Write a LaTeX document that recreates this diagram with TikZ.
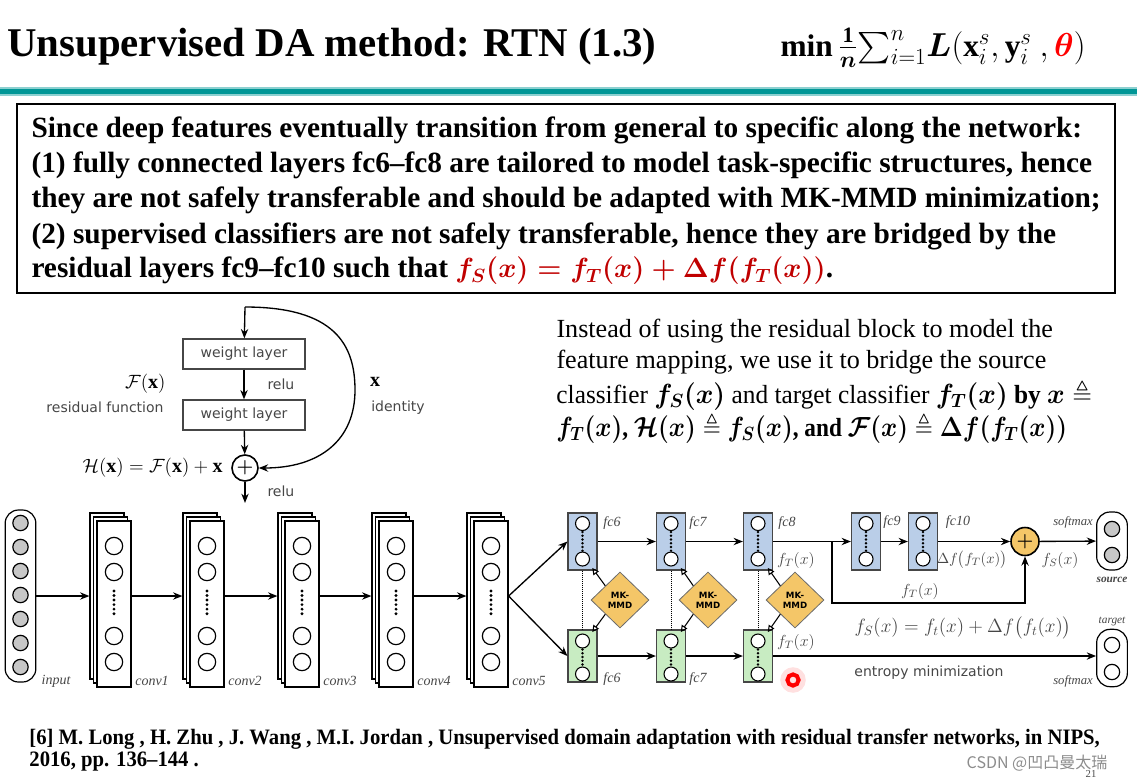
\documentclass[tikz,border=0pt]{standalone}
\usepackage{amsmath,amssymb}
\usepackage{fontspec}
\setmainfont{Liberation Serif}
\newfontfamily\vsans{DejaVu Sans}
\newfontfamily\cjk{Noto Sans CJK SC}
\usetikzlibrary{shapes.geometric,arrows.meta}

\definecolor{slideteal}{RGB}{0,150,150}
\definecolor{boxred}{RGB}{192,0,0}
\definecolor{fcblue}{RGB}{186,206,232}
\definecolor{fcgreen}{RGB}{200,236,194}
\definecolor{mmdorange}{RGB}{244,198,104}
\definecolor{inkgray}{RGB}{70,70,70}

\tikzset{every picture/.style={line width=0.75pt},
  arr/.style={-{Stealth[length=7pt,width=5.5pt]},line width=1pt},
  openarr/.style={-{Triangle[open,length=5pt,width=5pt]},line width=0.8pt},
  wlayer/.style={draw=inkgray,line width=1pt,minimum width=91.5pt,minimum height=22.5pt,inner sep=0pt,font=\vsans\fontsize{10.5}{12}\selectfont,text=inkgray},
  sheet/.style={draw=black,fill=white,line width=0.9pt,minimum width=25.5pt,minimum height=124.5pt,inner sep=0pt},
  pill/.style={draw=black,fill=white,line width=0.9pt,rounded corners=10pt,minimum width=23pt,inner sep=0pt},
  unit/.style={circle,draw=black,fill=white,line width=0.9pt,minimum size=13pt,inner sep=0pt},
  fcbox/.style={draw=inkgray,line width=0.9pt,minimum width=21.75pt,inner sep=0pt},
  mmd/.style={diamond,draw=inkgray!80,fill=mmdorange,line width=0.6pt,minimum width=43.5pt,minimum height=42pt,inner sep=0pt,align=center,font=\vsans\bfseries\fontsize{6.5}{7.5}\selectfont},
  ndots/.style={line width=2.4pt,dash pattern=on 0pt off 3.4pt,line cap=round},
  lbl/.style={font=\itshape\fontsize{10.5}{12}\selectfont,text=inkgray,inner sep=0.75pt},
  sanslbl/.style={font=\vsans\fontsize{10.5}{12}\selectfont,text=inkgray,inner sep=0.75pt},
  boxline/.style={anchor=west,inner sep=0.75pt,font=\bfseries\fontsize{22}{25}\selectfont},
  paraline/.style={anchor=west,inner sep=0.75pt,font=\fontsize{19.6}{22}\selectfont},
  refline/.style={anchor=west,inner sep=0.75pt,xscale=0.94,font=\bfseries\fontsize{16.5}{18}\selectfont}
}

\begin{document}
\begin{tikzpicture}[x=0.75pt,y=0.75pt,yscale=-1,xscale=1]
\useasboundingbox (0,0) rectangle (1137,782);

% Text Node
\draw (6,47) node (title) [anchor=west,inner sep=0.75pt,font=\bfseries\fontsize{30.6}{34}\selectfont] {Unsupervised DA method: RTN (1.3)};
% Text Node
\draw (780,48) node (objective) [anchor=west,inner sep=0pt,font=\fontsize{23.5}{26}\selectfont] {$\mathbf{min}\,\frac{\mathbf{1}}{\boldsymbol{n}}{\textstyle\sum_{i=1}^{n}}\boldsymbol{L}(\mathbf{x}_i^s,\mathbf{y}_i^s\ ,\textcolor{red}{\boldsymbol{\theta}})$};
%Straight Lines
\draw [color=slideteal!45,line width=6.5pt] (0,91.5) -- (1137,91.5) ;
\draw [color=slideteal,line width=3.5pt] (0,91.5) -- (1137,91.5) ;

%Shape: Rectangle
\draw [line width=1.6pt] (17,104) rectangle (1115,293) ;
% Text Node
\draw (30,130) node (boxa) [boxline] {Since deep features eventually transition from general to specific along the network:};
% Text Node
\draw (30,165) node (boxb) [boxline] {(1) fully connected layers fc6--fc8 are tailored to model task-specific structures, hence};
% Text Node
\draw (30,200) node (boxc) [boxline] {they are not safely transferable and should be adapted with MK-MMD minimization;};
% Text Node
\draw (30,236) node (boxd) [boxline] {(2) supervised classifiers are not safely transferable, hence they are bridged by the};
% Text Node
\draw (30,271) node (boxe) [boxline] {residual layers fc9--fc10 such that \textcolor{boxred}{$\boldsymbol{f_S(x)=f_T(x)+\Delta f(f_T(x))}$}.};

% Text Node
\draw (555,331) node (parya) [paraline] {Instead of using the residual block to model the};
% Text Node
\draw (555,362) node (paryb) [paraline] {feature mapping, we use it to bridge the source};
% Text Node
\draw (555,395) node (paryc) [paraline,xscale=0.97] {classifier $\boldsymbol{f_S(x)}$ and target classifier $\boldsymbol{f_T(x)}$ \textbf{by} $\boldsymbol{x}\triangleq$};
% Text Node
\draw (555,428) node (paryd) [paraline,xscale=0.89] {$\boldsymbol{f_T(x)}$\textbf{,} $\boldsymbol{\mathcal{H}(x)}\triangleq\boldsymbol{f_S(x)}$\textbf{, and} $\boldsymbol{\mathcal{F}(x)}\triangleq\boldsymbol{\Delta f(f_T(x))}$};

% residual block
\coordinate (restop) at (245,307);
\coordinate (resout) at (245,503);
\node (wl1) [wlayer] at (244,354) {weight layer};
\node (wl2) [wlayer] at (244,415) {weight layer};
\node (addres) [circle,draw=black,line width=1.2pt,minimum size=19.5pt,inner sep=0pt,font=\bfseries\Large] at (245,468) {$\boldsymbol{+}$};
\draw [arr] (restop) -- (wl1) ;
\draw [arr] (wl1) -- (wl2) ;
\draw [arr] (wl2) -- (addres) ;
\draw [arr] (addres) -- (resout) ;
\draw [arr] (restop) .. controls (335,307) and (355,345) .. (355,390) .. controls (355,440) and (320,468) .. (addres.east) ;
% Text Node
\draw (266,384) node (relua) [sanslbl,anchor=west] {relu};
% Text Node
\draw (266,491) node (relub) [sanslbl,anchor=west] {relu};
% Text Node
\draw (167,384) node (resfx) [anchor=east,inner sep=0.75pt,font=\fontsize{15}{17}\selectfont] {$\mathcal{F}(\mathbf{x})$};
% Text Node
\draw (105,407) node (resfn) [sanslbl] {residual function};
% Text Node
\draw (375,382) node (idx) [inner sep=0.75pt,font=\fontsize{15}{17}\selectfont] {$\mathbf{x}$};
% Text Node
\draw (398,408) node (idn) [sanslbl] {identity};
% Text Node
\draw (224,468) node (resh) [anchor=east,inner sep=0.75pt,font=\fontsize{15}{17}\selectfont] {$\mathcal{H}(\mathbf{x})=\mathcal{F}(\mathbf{x})+\mathbf{x}$};

% input layer
\node (input) [pill,minimum height=129pt] at (20.5,596) {};
\foreach \cy in {523,547,571,595,619,643,667}
  \node [unit,fill=black!22,minimum size=11.5pt] at (20.5,\cy) {};
\draw (56,681) node (linput) [lbl] {input};

% conv layers
\foreach \cx/\k in {114/1,207/2,302/3,396/4,491/5}{
  \node (c\k back) [sheet] at (\cx-7,596) {};
  \node [sheet] at (\cx-3.5,600) {};
  \node (conv\k) [sheet] at (\cx,604) {};
  \foreach \cy in {546,572,636,662}
    \node [unit] at (\cx,\cy) {};
  \draw [ndots] (\cx,591) -- (\cx,614) ;
  \draw (\cx+38,681) node (lconv\k) [lbl] {conv\k};
}
\draw [arr] (input) -- (c1back) ;
\draw [arr] (conv1.east |- c2back) -- (c2back.west) ;
\draw [arr] (conv2.east |- c3back) -- (c3back.west) ;
\draw [arr] (conv3.east |- c4back) -- (c4back.west) ;
\draw [arr] (conv4.east |- c5back) -- (c5back.west) ;

% fully connected layers
\foreach \cx/\nm in {582.5/fcsixs,671/fcsevens,758/fceights,866/fcnine,923/fcten}{
  \node (\nm) [fcbox,fill=fcblue,minimum height=42.75pt] at (\cx,541.5) {};
  \node [unit,minimum size=10.5pt,line width=0.8pt] at (\cx,523.5) {};
  \node [unit,minimum size=10.5pt,line width=0.8pt] at (\cx,559) {};
  \draw [ndots,line width=2pt,dash pattern=on 0pt off 2.8pt] (\cx,532) -- (\cx,551) ;
}
\foreach \cx/\nm in {582.5/fcsixt,671/fcsevent,758/fceightt}{
  \node (\nm) [fcbox,fill=fcgreen,minimum height=39pt] at (\cx,656) {};
  \node [unit,minimum size=10.5pt,line width=0.8pt] at (\cx,641) {};
  \node [unit,minimum size=10.5pt,line width=0.8pt] at (\cx,674) {};
  \draw [ndots,line width=2pt,dash pattern=on 0pt off 2.8pt] (\cx,649.5) -- (\cx,666) ;
}
\draw [arr] (conv5.east |- c5back) -- (fcsixs.west) ;
\draw [arr] (conv5.east |- c5back) -- (fcsixt.west) ;
\draw [arr] (fcsixs) -- (fcsevens) ;
\draw [arr] (fcsevens) -- (fceights) ;
\draw [arr] (fcsixt) -- (fcsevent) ;
\draw [arr] (fcsevent) -- (fceightt) ;
\draw [arr] (fceights) -- (fcnine) ;
\draw [arr] (fcnine) -- (fcten) ;
\draw [densely dotted,line width=0.5pt] (fcsixs) -- (fcsixt) ;
\draw [densely dotted,line width=0.5pt] (fcsevens) -- (fcsevent) ;
\draw [densely dotted,line width=0.5pt] (fceights) -- (fceightt) ;

% MK-MMD
\node (mmda) [mmd] at (620,600) {MK-\\MMD};
\node (mmdb) [mmd] at (708,600) {MK-\\MMD};
\node (mmdc) [mmd] at (795,600) {MK-\\MMD};
\draw [openarr] (mmda.north west) -- ([xshift=-4pt,yshift=-2pt]fcsixs.south east) ;
\draw [openarr] (mmda.south west) -- ([xshift=-4pt,yshift=2pt]fcsixt.north east) ;
\draw [openarr] (mmdb.north west) -- ([xshift=-4pt,yshift=-2pt]fcsevens.south east) ;
\draw [openarr] (mmdb.south west) -- ([xshift=-4pt,yshift=2pt]fcsevent.north east) ;
\draw [openarr] (mmdc.north west) -- ([xshift=-4pt,yshift=-2pt]fceights.south east) ;
\draw [openarr] (mmdc.south west) -- ([xshift=-4pt,yshift=2pt]fceightt.north east) ;

% residual part
\node (addfc) [circle,draw=black,fill=mmdorange,line width=1.2pt,minimum size=21pt,inner sep=0pt,font=\bfseries\Large] at (1025,541.5) {$\boldsymbol{+}$};
\coordinate (split) at (832,541.5);
\coordinate (bypass) at (832,603);
\draw [arr] (fcten) -- (addfc) ;
\draw [arr] (split) -- (bypass) -| (addfc.south) ;

% outputs
\node (source) [pill,minimum height=43.5pt] at (1112,541) {};
\node [unit,fill=black!22,minimum size=11.5pt] at (1112,529) {};
\node [unit,fill=black!22,minimum size=11.5pt] at (1112,555) {};
\node (target) [pill,minimum height=43pt] at (1112,658) {};
\node [unit,minimum size=11.5pt] at (1112,645) {};
\node [unit,minimum size=11.5pt] at (1112,672) {};
\draw [arr] (addfc) -- (source) ;
\draw [arr] (fceightt.east) -- (target.west |- fceightt.east) ;

% Text Node
\draw (612,523) node (lfcsixs) [lbl] {fc6};
\draw (698,523) node (lfcsevens) [lbl] {fc7};
\draw (787,523) node (lfceights) [lbl] {fc8};
\draw (892,522) node (lfcnine) [lbl] {fc9};
\draw (958,522) node (lfcten) [lbl] {fc10};
\draw (612,679) node (lfcsixt) [lbl] {fc6};
\draw (698,679) node (lfcsevent) [lbl] {fc7};
% Text Node
\draw (796,560) node (lfts) [inner sep=0.75pt,font=\fontsize{12}{14}\selectfont,text=inkgray] {$f_T(x)$};
\draw (796,642) node (lftt) [inner sep=0.75pt,font=\fontsize{12}{14}\selectfont,text=inkgray] {$f_T(x)$};
\draw (972,560) node (ldf) [inner sep=0.75pt,font=\fontsize{11}{13}\selectfont,text=inkgray] {$\Delta f\big(f_T(x)\big)$};
\draw (920,591) node (lbyp) [inner sep=0.75pt,font=\fontsize{12}{14}\selectfont,text=inkgray] {$f_T(x)$};
\draw (1060,560) node (lfs) [inner sep=0.75pt,font=\fontsize{12}{14}\selectfont,text=inkgray] {$f_S(x)$};
\draw (963,628) node (lfsum) [inner sep=0.75pt,font=\fontsize{14}{16}\selectfont,text=inkgray] {$f_S(x)=f_t(x)+\Delta f\big(f_t(x)\big)$};
\draw (929,673) node (lent) [sanslbl] {entropy minimization};
\draw (1073,522) node (lsmxs) [lbl,font=\itshape\fontsize{9.5}{11}\selectfont] {softmax};
\draw (1073,681) node (lsmxt) [lbl,font=\itshape\fontsize{9.5}{11}\selectfont] {softmax};
\draw (1112,580) node (lsrc) [lbl,font=\bfseries\itshape\fontsize{8.5}{10}\selectfont] {source};
\draw (1112,622) node (ltgt) [lbl,font=\itshape\fontsize{8.5}{10}\selectfont] {target};

% pointer
\draw [red,opacity=0.12,line width=9pt] (793,680) circle (5pt) ;
\draw [red,line width=3pt] (793,680) circle (4.2pt) ;

% Text Node
\draw (28,739) node (refa) [refline] {[6] M. Long , H. Zhu , J. Wang , M.I. Jordan , Unsupervised domain adaptation with residual transfer networks, in NIPS,};
% Text Node
\draw (28,762) node (refb) [refline] {2016, pp. 136--144 .};
% Text Node
\draw (1091,774) node (pageno) [inner sep=0.5pt,font=\fontsize{8}{9}\selectfont,text=black!70] {21};
\draw (1037,763) node (mark) [inner sep=0.75pt,font=\cjk\fontsize{12}{14}\selectfont,text=black!45] {CSDN @凹凸曼太瑞};

\end{tikzpicture}
\end{document}
